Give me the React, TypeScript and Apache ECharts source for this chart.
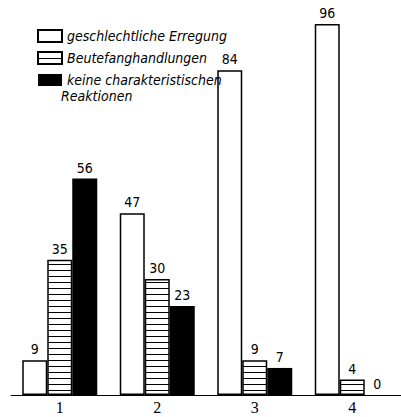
import React, { useEffect, useRef } from "react";
import * as echarts from "echarts";

const categories = ["1", "2", "3", "4"];
const seriesNames = ["geschlechtliche Erregung", "Beutefanghandlungen", "keine charakteristischen"];
const erregung = [9, 47, 84, 96];
const beutefang = [35, 30, 9, 4];
const keine = [56, 23, 7, 0];
const legendExtraLine = "Reaktionen";

const NARROW = "'Liberation Sans Narrow', 'DejaVu Sans Condensed', sans-serif";

function stripePattern() {
  const c = document.createElement("canvas");
  c.width = 4;
  c.height = 6;
  const ctx = c.getContext("2d")!;
  ctx.fillStyle = "#fff";
  ctx.fillRect(0, 0, 4, 6);
  ctx.fillStyle = "#000";
  ctx.fillRect(0, 0, 4, 1);
  return { image: c.toDataURL(), repeat: "repeat" };
}

export default function App() {
  const ref = useRef<HTMLDivElement>(null);
  useEffect(() => {
    if (!ref.current) return;
    const chart = echarts.init(ref.current, null, { renderer: "svg" });
    const label = {
      show: true,
      position: "top",
      distance: 4,
      color: "#000",
      fontFamily: NARROW,
      fontSize: 14,
    };
    chart.setOption({
      animation: false,
      backgroundColor: "#fff",
      grid: { left: 11, right: -11, top: 8.5, bottom: 22 },
      legend: {
        orient: "vertical",
        left: 32,
        top: 20,
        itemWidth: 24,
        itemHeight: 12,
        itemGap: 0,
        icon: "rect",
        data: seriesNames,
        textStyle: {
          color: "#000",
          fontFamily: NARROW,
          fontStyle: "italic",
          fontSize: 14,
          lineHeight: 22,
        },
      },
      xAxis: {
        type: "category",
        data: categories,
        axisLine: { lineStyle: { color: "#000", width: 1 } },
        axisTick: { show: false },
        axisLabel: {
          color: "#000",
          fontFamily: "'Liberation Serif', serif",
          fontSize: 16,
          margin: 4,
        },
      },
      yAxis: { type: "value", min: 0, max: 100, show: false, splitLine: { show: false } },
      series: [
        {
          name: seriesNames[0],
          type: "bar",
          data: erregung,
          barWidth: 25,
          barGap: "0%",
          itemStyle: { color: "#fff", borderColor: "#000", borderWidth: 1.5 },
          label,
        },
        {
          name: seriesNames[1],
          type: "bar",
          data: beutefang,
          barWidth: 25,
          barGap: "0%",
          itemStyle: { color: stripePattern(), borderColor: "#000", borderWidth: 1.5 },
          label,
        },
        {
          name: seriesNames[2],
          type: "bar",
          data: keine,
          barWidth: 25,
          barGap: "0%",
          itemStyle: { color: "#000", borderColor: "#000", borderWidth: 0 },
          label,
        },
      ],
      graphic: [
        {
          type: "text",
          left: 61,
          top: 89,
          style: {
            text: legendExtraLine,
            fill: "#000",
            fontFamily: NARROW,
            fontStyle: "italic",
            fontSize: 14,
          },
        },
      ],
    });
    return () => chart.dispose();
  }, []);
  return <div ref={ref} style={{ width: 401, height: 417, position: "absolute", left: 0, top: 0 }} />;
}
